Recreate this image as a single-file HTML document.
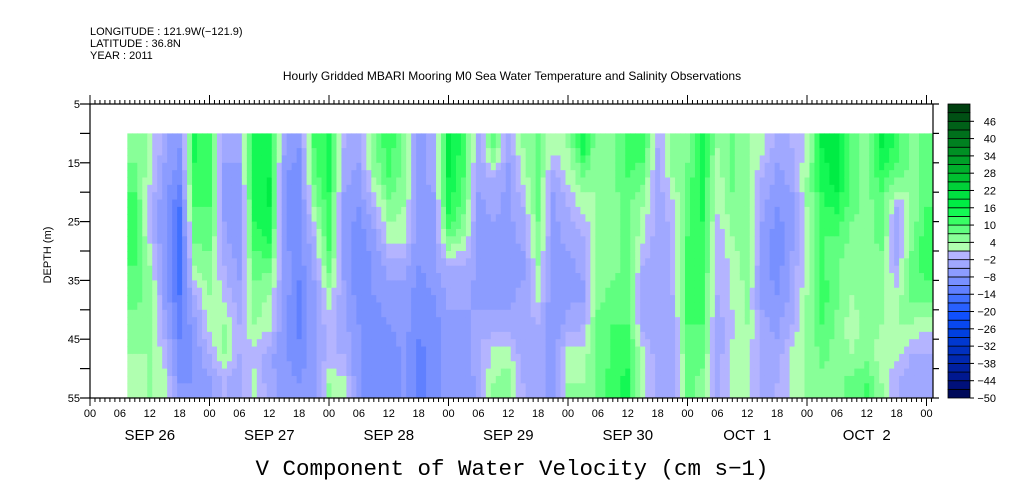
<!DOCTYPE html>
<html><head><meta charset="utf-8"><style>
body{margin:0;background:#fff;}
svg{display:block;font-family:"Liberation Sans",sans-serif;}
.pre{white-space:pre;}
</style></head><body>
<svg id="chart" width="1009" height="504" viewBox="0 0 1009 504" xmlns="http://www.w3.org/2000/svg">
<g font-size="11" fill="#000">
<text x="90" y="35">LONGITUDE : 121.9W(−121.9)</text>
<text x="90" y="47">LATITUDE : 36.8N</text>
<text x="90" y="59">YEAR : 2011</text>
<text x="512" y="80" text-anchor="middle" font-size="12">Hourly Gridded MBARI Mooring M0 Sea Water Temperature and Salinity Observations</text>
</g>
<g id="heat"></g>
<g id="axes"></g>
<g id="cbar"></g>
<text transform="translate(51,255) rotate(-90)" text-anchor="middle" font-size="11">DEPTH (m)</text>
<text x="512" y="475" text-anchor="middle" font-family="Liberation Mono, monospace" font-size="22.5">V Component of Water Velocity (cm s−1)</text>
</svg>
<script>
// data: columns every 3 hours starting at hour 7.5 of Sep 26; rows are 5 m depth bands from 10 m to 55 m
const startHour = 7.5;
const stepHours = 3;
const depthBands = [10,15,20,25,30,35,40,45,50];
const days = ["SEP 26","SEP 27","SEP 28","SEP 29","SEP 30","OCT  1","OCT  2"];
const hourLabels = ["00","06","12","18"];
const depthTicks = [5,15,25,35,45,55];
const cbarLabels = [46,40,34,28,22,16,10,4,-2,-8,-14,-20,-26,-32,-38,-44,-50];
const velocity = [
[6,8,12,12,10,8,6,4,2],
[3,2,-2,0,4,6,6,4,4],
[-4,-6,-8,-8,-8,-6,-4,0,2],
[-8,-10,-14,-16,-16,-14,-12,-10,-8],
[14,12,10,8,4,-2,-6,-8,-8],
[10,10,10,8,6,4,2,-2,-6],
[-4,-6,-6,-4,-2,0,4,4,-2],
[-4,-6,-8,-8,-6,-4,-2,-2,-4],
[14,16,14,12,8,6,4,0,2],
[14,16,16,14,8,4,2,-4,-4],
[-4,-8,-8,-8,-6,-6,-8,-8,-6],
[-8,-10,-10,-10,-10,-12,-12,-10,-8],
[10,8,4,-2,-4,-6,-6,-6,-6],
[14,14,12,12,8,2,0,-2,4],
[-2,-4,-6,-6,-6,-4,-4,-2,2],
[-4,-6,-8,-10,-10,-10,-8,-8,-8],
[6,4,-2,-6,-8,-8,-10,-10,-10],
[12,10,6,2,-4,-6,-8,-10,-10],
[6,6,4,2,-4,-6,-6,-8,-8],
[-6,-6,-6,-8,-8,-10,-10,-12,-12],
[-4,-4,-6,-6,-6,-8,-10,-10,-10],
[16,16,14,8,-2,-4,-6,-6,-6],
[12,10,8,4,-2,-4,-6,-8,-8],
[-4,-4,-6,-6,-6,-6,-4,-2,-4],
[8,-2,-4,-6,-6,-6,-4,2,4],
[-4,-6,-6,-6,-6,-6,-4,2,6],
[4,2,-2,-4,-6,-4,-4,-4,-2],
[8,8,8,6,4,2,-2,-4,-4],
[2,-4,-6,-6,-8,-8,-8,-6,-6],
[4,2,-2,-4,-6,-6,-4,2,4],
[14,6,2,-2,-4,-6,-2,2,4],
[4,4,4,4,6,6,8,8,8],
[6,6,6,6,6,8,10,10,12],
[12,10,8,8,8,8,10,12,14],
[12,8,4,2,-2,-4,-4,2,2],
[-2,-4,-4,-4,-4,-4,-2,-4,-4],
[6,4,0,-2,-2,-2,-4,-4,-4],
[6,8,8,10,10,10,10,8,8],
[14,14,14,12,12,10,10,8,6],
[4,2,2,-2,-2,-2,-4,-4,-4],
[8,8,6,4,2,2,0,2,2],
[4,4,4,6,6,4,4,2,2],
[2,-2,-4,-6,-6,-6,-4,-2,-4],
[-4,-6,-8,-10,-10,-8,-6,-4,-2],
[-2,-4,-6,-6,-4,-4,-2,2,2],
[2,4,4,2,2,4,4,4,4],
[16,14,12,10,10,12,10,8,6],
[18,18,14,10,8,8,6,6,6],
[8,8,8,6,4,4,2,4,8],
[6,6,6,6,6,6,6,6,10],
[16,12,8,8,6,4,4,2,4],
[12,8,-2,-4,-2,2,4,2,-2],
[6,6,4,6,8,8,4,-2,-4],
[8,8,10,12,12,8,2,-2,-4]
];
const palette = ["#000a5a","#00107a","#001890","#0020a0","#0028b0","#0030c0","#0038d0","#0040e0","#0848f0","#1050ff","#2860ff","#4070ff","#6080ff","#7890ff","#8c9cff","#a0a8ff","#b4b4ff","#b0ffb0","#88ff98","#60ff80","#38ff64","#14f854","#00ec44","#00e040","#00d038","#00c030","#00b02c","#00a028","#009024","#008020","#00701c","#006018","#005014","#004010"];

const NS="http://www.w3.org/2000/svg";
const X0=90, PX_PER_HOUR=119.5/24, Y0=104, PX_PER_M=294/50, XR=933;
const xScale=h=>X0+h*PX_PER_HOUR;
const yScale=d=>Y0+(d-5)*PX_PER_M;
const level=v=>Math.max(0,Math.min(palette.length-1,Math.floor((v+50)/3)));
function mk(tag,attrs,parent){const e=document.createElementNS(NS,tag);for(const k in attrs)e.setAttribute(k,attrs[k]);parent.appendChild(e);return e;}

// value lookup with linear interpolation between column/band centres (render smoothing)
function sample(h,d){
  const nc=velocity.length, nr=depthBands.length;
  let fc=(h-startHour)/stepHours-0.5; fc=Math.max(0,Math.min(nc-1,fc));
  let fr=(d-depthBands[0])/5-0.5; fr=Math.max(0,Math.min(nr-1,fr));
  const c0=Math.floor(fc), c1=Math.min(nc-1,c0+1), tc=fc-c0;
  const r0=Math.floor(fr), r1=Math.min(nr-1,r0+1), tr=fr-r0;
  const a=velocity[c0][r0]*(1-tr)+velocity[c0][r1]*tr;
  const b=velocity[c1][r0]*(1-tr)+velocity[c1][r1]*tr;
  return a*(1-tc)+b*tc;
}
const heat=document.getElementById('heat');
const hEnd=startHour+velocity.length*stepHours, dEnd=depthBands[depthBands.length-1]+5;
for(let h=startHour;h<hEnd;h+=1){
  const x1=xScale(h), x2=Math.min(XR,xScale(h+1));
  if(x2<=x1) continue;
  for(let d=depthBands[0];d<dEnd;d+=1.25){
    const y1=yScale(d), y2=yScale(Math.min(dEnd,d+1.25));
    const v=sample(h+0.5,d+0.625);
    const r=mk('rect',{x:x1,y:y1,width:x2-x1+0.5,height:y2-y1+0.5,fill:palette[level(v)]},heat);
    
    
  }
}

const ax=document.getElementById('axes');
const st={stroke:'#000','stroke-width':1.2,fill:'none'};
let l;
l=mk('line',Object.assign({x1:X0,y1:Y0,x2:X0,y2:yScale(55)},st),ax);

l=mk('line',Object.assign({x1:XR,y1:Y0,x2:XR,y2:yScale(55)},st),ax);

l=mk('line',Object.assign({x1:X0,y1:Y0,x2:XR,y2:Y0},st),ax);

l=mk('line',Object.assign({x1:X0,y1:yScale(55),x2:XR,y2:yScale(55)},st),ax);

const totalH=Math.floor((XR-X0)/PX_PER_HOUR);
for(let h=0;h<=totalH;h++){
  const x=xScale(h), day=h%24===0;
  mk('line',{x1:x,y1:Y0,x2:x,y2:Y0-(day?9:4),stroke:'#000','stroke-width':1},ax);
  mk('line',{x1:x,y1:yScale(55),x2:x,y2:yScale(55)+(day?8:4),stroke:'#000','stroke-width':1},ax);
  if(h%6===0){
    const t=mk('text',{x:x,y:417,'text-anchor':'middle','font-size':11},ax);
    t.textContent=hourLabels[(h/6)%4];
    
    
  }
}
days.forEach((d,i)=>{
  const t=mk('text',{x:xScale(i*24+12),y:440,'text-anchor':'middle','font-size':15,'class':'pre'},ax);
  t.textContent=d;
  
  
});
for(let d=5;d<=55;d+=5){
  const y=yScale(d), major=depthTicks.includes(d);
  mk('line',{x1:X0,y1:y,x2:X0-10,y2:y,stroke:'#000','stroke-width':1.2},ax);
  mk('line',{x1:XR,y1:y,x2:XR+6,y2:y,stroke:'#000','stroke-width':1.2},ax);
  if(major){
    const t=mk('text',{x:80,y:y+4,'text-anchor':'end','font-size':11},ax);
    t.textContent=d;
    
    
  }
}

const cb=document.getElementById('cbar');
const CX=948,CW=22,CTOP=104,CBOT=398,n=palette.length,ch=(CBOT-CTOP)/n;
palette.forEach((c,k)=>{
  const r=mk('rect',{x:CX,y:CBOT-(k+1)*ch,width:CW,height:ch,fill:c,stroke:'#000','stroke-width':0.8},cb);
  
  
});
cbarLabels.forEach(v=>{
  const k=(v+50)/3, y=CBOT-k*ch;
  mk('line',{x1:CX+CW,y1:y,x2:CX+CW+4,y2:y,stroke:'#000','stroke-width':1},cb);
  const t=mk('text',{x:996,y:y+4,'text-anchor':'end','font-size':11},cb);
  t.textContent=v<0?'−'+(-v):String(v);
  
  
});
</script>
</body></html>
